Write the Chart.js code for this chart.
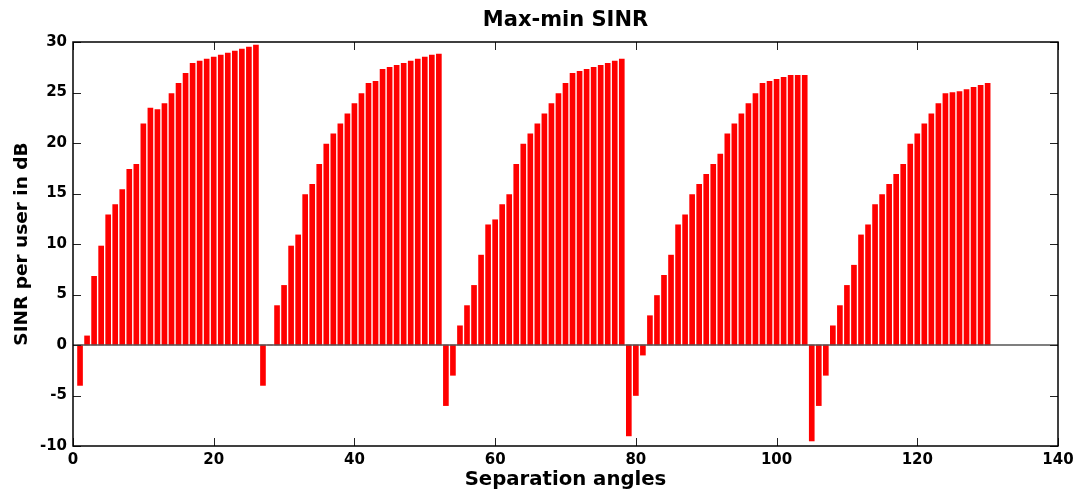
<!DOCTYPE html>
<html>
<head>
<meta charset="utf-8">
<script src="https://cdn.jsdelivr.net/npm/chart.js@4.4.1/dist/chart.umd.min.js"></script>
<style>
html,body{margin:0;padding:0;background:#fff;}
#wrap{width:1081px;height:495px;}
</style>
</head>
<body>
<div id="wrap"><canvas id="c" width="1081" height="495"></canvas></div>
<script>
const titleText = 'Max-min SINR';
const xTitle = 'Separation angles';
const yTitle = 'SINR per user in dB';

const angles = [
  1,2,3,4,5,6,7,8,9,10,11,12,13,14,15,16,17,18,19,20,21,22,23,24,25,26,
  27,28,29,30,31,32,33,34,35,36,37,38,39,40,41,42,43,44,45,46,47,48,49,50,51,52,
  53,54,55,56,57,58,59,60,61,62,63,64,65,66,67,68,69,70,71,72,73,74,75,76,77,78,
  79,80,81,82,83,84,85,86,87,88,89,90,91,92,93,94,95,96,97,98,99,100,101,102,103,104,
  105,106,107,108,109,110,111,112,113,114,115,116,117,118,119,120,121,122,123,124,125,126,127,128,129,130
];

const sinr = [
  -4, 0.9, 6.8, 9.8, 12.9, 13.9, 15.4, 17.4, 17.9, 21.9, 23.45, 23.3, 23.9, 24.9, 25.9, 26.9, 27.9, 28.1, 28.3, 28.5, 28.7, 28.9, 29.1, 29.3, 29.5, 29.7,
  -4, 0, 3.9, 5.9, 9.8, 10.9, 14.9, 15.9, 17.9, 19.9, 20.9, 21.9, 22.9, 23.9, 24.9, 25.9, 26.1, 27.3, 27.5, 27.7, 27.9, 28.1, 28.3, 28.5, 28.7, 28.8,
  -6, -3, 1.9, 3.9, 5.9, 8.9, 11.9, 12.4, 13.9, 14.9, 17.9, 19.9, 20.9, 21.9, 22.9, 23.9, 24.9, 25.9, 26.9, 27.1, 27.3, 27.5, 27.7, 27.9, 28.1, 28.3,
  -9, -5, -1, 2.9, 4.9, 6.9, 8.9, 11.9, 12.9, 14.9, 15.9, 16.9, 17.9, 18.9, 20.9, 21.9, 22.9, 23.9, 24.9, 25.9, 26.1, 26.3, 26.5, 26.7, 26.7, 26.7,
  -9.5, -6, -3, 1.9, 3.9, 5.9, 7.9, 10.9, 11.9, 13.9, 14.9, 15.9, 16.9, 17.9, 19.9, 20.9, 21.9, 22.9, 23.9, 24.9, 25, 25.1, 25.3, 25.5, 25.7, 25.9
];

const xTicks = [0, 20, 40, 60, 80, 100, 120, 140];
const yTicks = [-10, -5, 0, 5, 10, 15, 20, 25, 30];

const FONT = '"DejaVu Sans", Verdana, sans-serif';

const points = angles.map((a, i) => ({x: a, y: sinr[i]}));

const framePlugin = {
  id: 'frame',
  afterDatasetsDraw(chart) {
    const {ctx, chartArea: ca, scales} = chart;
    const xs = scales.x, ys = scales.y;
    ctx.save();
    const y0 = ys.getPixelForValue(0);
    ctx.strokeStyle = '#555555';
    ctx.lineWidth = 1.5;
    ctx.beginPath();
    ctx.moveTo(ca.left, y0);
    ctx.lineTo(ca.right, y0);
    ctx.stroke();
    ctx.strokeStyle = '#222222';
    ctx.lineWidth = 1;
    const tl = 8;
    ctx.beginPath();
    xTicks.forEach(v => {
      const px = Math.round(xs.getPixelForValue(v)) + 0.5;
      ctx.moveTo(px, ca.bottom); ctx.lineTo(px, ca.bottom - tl);
      ctx.moveTo(px, ca.top); ctx.lineTo(px, ca.top + tl);
    });
    yTicks.forEach(v => {
      const py = Math.round(ys.getPixelForValue(v)) + 0.5;
      ctx.moveTo(ca.left, py); ctx.lineTo(ca.left + tl, py);
      ctx.moveTo(ca.right, py); ctx.lineTo(ca.right - tl, py);
    });
    ctx.stroke();
    ctx.strokeStyle = '#000000';
    ctx.lineWidth = 1.5;
    ctx.strokeRect(ca.left, ca.top, ca.right - ca.left, ca.bottom - ca.top);
    ctx.restore();
  }
};

new Chart(document.getElementById('c'), {
  type: 'bar',
  data: {
    datasets: [{
      data: points,
      backgroundColor: '#ff0000',
      borderWidth: 0,
      barThickness: 5
    }]
  },
  options: {
    responsive: false,
    animation: false,
    devicePixelRatio: 1,
    layout: {padding: {left: 0, right: 23, top: 0, bottom: 0}},
    plugins: {
      legend: {display: false},
      tooltip: {enabled: false},
      title: {
        display: true,
        fullSize: false,
        text: titleText,
        color: '#000',
        font: {family: FONT, size: 21, weight: 'bold', lineHeight: 1.2},
        padding: {top: 8, bottom: 8.8}
      }
    },
    scales: {
      x: {
        type: 'linear',
        min: 0, max: 140,
        offset: false,
        afterBuildTicks(scale) { scale.ticks = xTicks.map(v => ({value: v})); },
        afterFit(scale) { scale.height = 49; },
        grid: {display: false, drawTicks: false},
        border: {display: false},
        ticks: {color: '#000', font: {family: FONT, size: 15, weight: 'bold'}, padding: 5, maxRotation: 0, autoSkip: false},
        title: {display: true, text: xTitle, color: '#000', font: {family: FONT, size: 19.7, weight: 'bold', lineHeight: 1.2}, padding: {top: 0, bottom: 3}}
      },
      y: {
        type: 'linear',
        min: -10, max: 30,
        afterBuildTicks(scale) { scale.ticks = yTicks.map(v => ({value: v})); },
        afterFit(scale) { scale.width = 73; },
        grid: {display: false, drawTicks: false},
        border: {display: false},
        ticks: {color: '#000', font: {family: FONT, size: 15, weight: 'bold'}, padding: 6, autoSkip: false},
        title: {display: true, text: yTitle, color: '#000', font: {family: FONT, size: 18.5, weight: 'bold', lineHeight: 1.2}, padding: {top: 11, bottom: 0}}
      }
    }
  },
  plugins: [framePlugin]
});
</script>
</body>
</html>
